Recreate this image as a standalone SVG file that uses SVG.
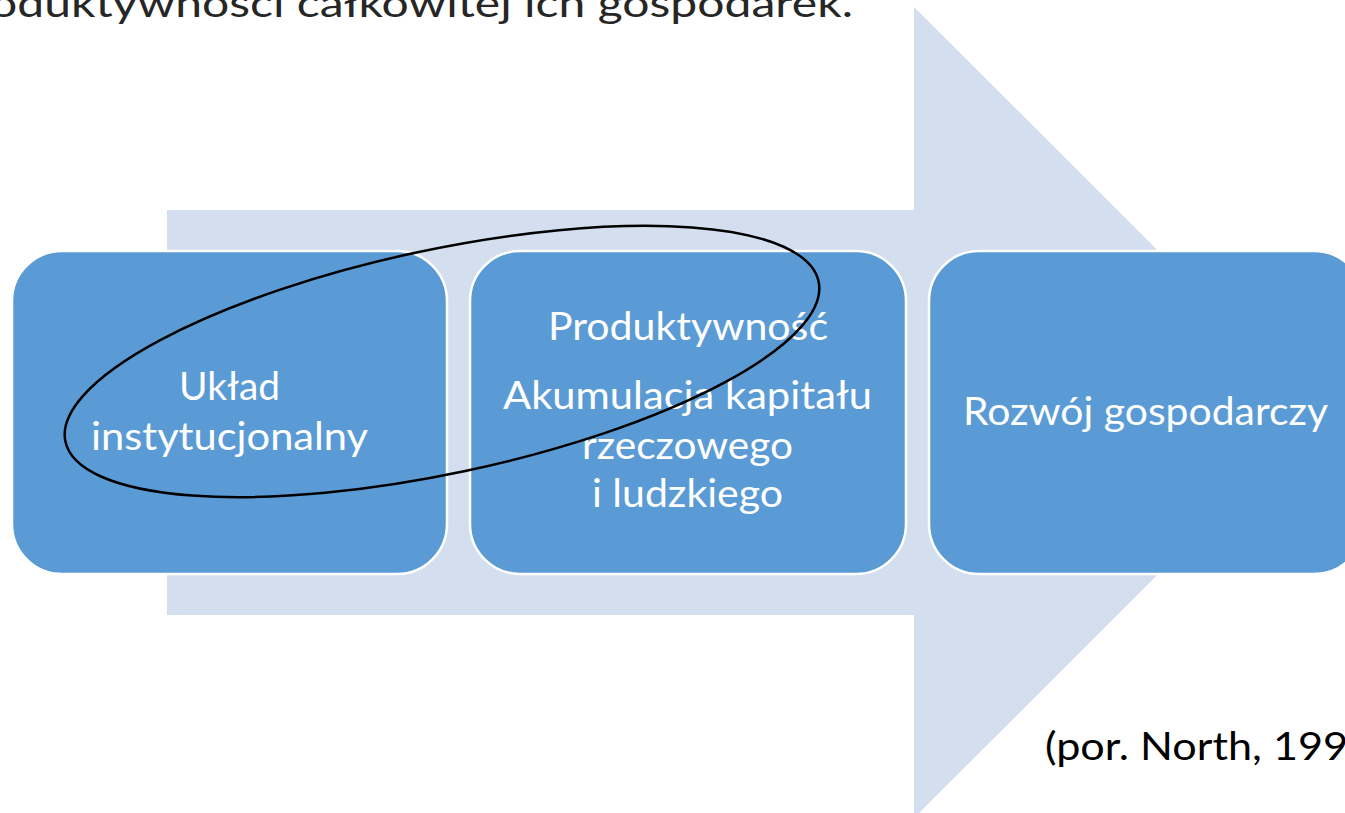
<svg xmlns="http://www.w3.org/2000/svg" width="1345" height="813" viewBox="0 0 1345 813">
  <style>
    .box { fill: #5B9BD5; stroke: #FFFFFF; stroke-width: 2.5; }
    .lbl { font-family: Lato, "Open Sans", "Liberation Sans", sans-serif; font-size: 38px; fill: #FFFFFF; text-anchor: middle; }
    .plain { font-family: Lato, "Open Sans", "Liberation Sans", sans-serif; font-size: 38px; }
  </style>
  <rect x="0" y="0" width="1345" height="813" fill="#FFFFFF"/>
  <text class="plain" x="-10" y="17" fill="#262626" textLength="863" lengthAdjust="spacingAndGlyphs">oduktywności całkowitej ich gospodarek.</text>
  <g id="connectors">
    <polygon id="big-arrow" points="167,210 914,210 914,7 1320,412.5 914,818 914,615 167,615" fill="#D3DEEF"/>
  </g>
  <g id="node-uklad">
    <rect class="box" x="12" y="251" width="435" height="323" rx="50" ry="50"/>
    <text class="lbl" x="229.5" y="400" textLength="101" lengthAdjust="spacingAndGlyphs">Układ</text>
    <text class="lbl" x="229.5" y="450" textLength="277" lengthAdjust="spacingAndGlyphs">instytucjonalny</text>
  </g>
  <g id="node-produktywnosc">
    <rect class="box" x="470" y="251" width="436" height="323" rx="50" ry="50"/>
    <text class="lbl" x="688" y="340" textLength="280" lengthAdjust="spacingAndGlyphs">Produktywność</text>
    <text class="lbl" x="687.5" y="409" textLength="369" lengthAdjust="spacingAndGlyphs">Akumulacja kapitału</text>
    <text class="lbl" x="687.5" y="459" textLength="211" lengthAdjust="spacingAndGlyphs">rzeczowego</text>
    <text class="lbl" x="687.5" y="507" textLength="191" lengthAdjust="spacingAndGlyphs">i ludzkiego</text>
  </g>
  <g id="node-rozwoj">
    <rect class="box" x="929" y="251" width="435" height="323" rx="50" ry="50"/>
    <text class="lbl" x="1145.5" y="425" textLength="365" lengthAdjust="spacingAndGlyphs">Rozwój gospodarczy</text>
  </g>
  <g id="highlight-ellipse">
    <ellipse cx="442" cy="361.5" rx="385" ry="112" transform="rotate(-12 442 361.5)" fill="none" stroke="#000000" stroke-width="2.5"/>
  </g>
  <text class="plain" x="1045" y="760" fill="#000000" textLength="303" lengthAdjust="spacingAndGlyphs">(por. North, 199</text>
</svg>
